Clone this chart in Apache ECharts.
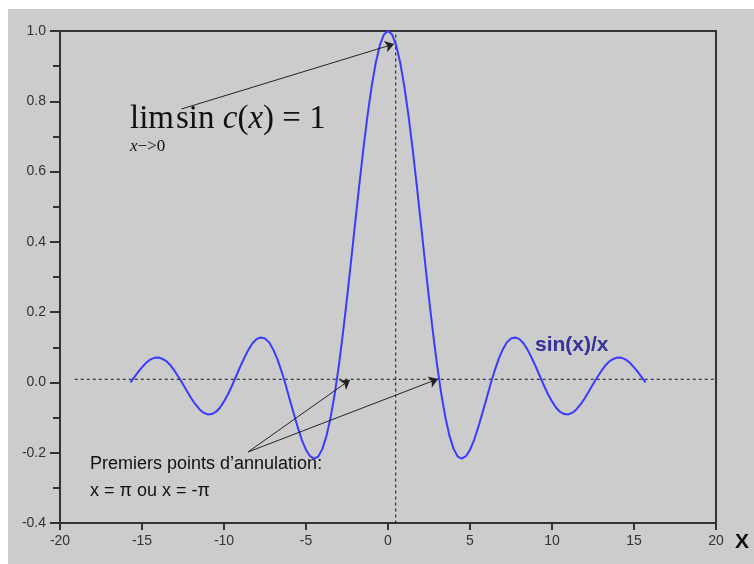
<!DOCTYPE html>
<html>
<head>
<meta charset="utf-8">
<script src="https://cdn.jsdelivr.net/npm/echarts@6/dist/echarts.min.js"></script>
<style>
  html, body { margin: 0; padding: 0; background: #ffffff; }
  #panel { position: absolute; left: 8px; top: 9px; width: 746px; height: 555px; background: #cccccc; }
  #chart { position: absolute; left: 0; top: 0; width: 754px; height: 564px; }
</style>
</head>
<body>
<div id="panel"></div>
<div id="chart"></div>
<script>
// sin(x)/x sampled over [-5π, 5π]
const xs = [
  -15.7, -15.5, -15.25, -15, -14.75, -14.5, -14.25, -14, -13.75, -13.5, -13.25, -13, -12.75, -12.5, -12.25, -12,
  -11.75, -11.5, -11.25, -11, -10.75, -10.5, -10.25, -10, -9.75, -9.5, -9.25, -9, -8.75, -8.5, -8.25, -8,
  -7.75, -7.5, -7.25, -7, -6.75, -6.5, -6.25, -6, -5.75, -5.5, -5.25, -5, -4.75, -4.5, -4.25, -4,
  -3.75, -3.5, -3.25, -3, -2.75, -2.5, -2.25, -2, -1.75, -1.5, -1.25, -1, -0.75, -0.5, -0.25,
  0,
  0.25, 0.5, 0.75, 1, 1.25, 1.5, 1.75, 2, 2.25, 2.5, 2.75, 3, 3.25, 3.5, 3.75,
  4, 4.25, 4.5, 4.75, 5, 5.25, 5.5, 5.75, 6, 6.25, 6.5, 6.75, 7, 7.25, 7.5, 7.75,
  8, 8.25, 8.5, 8.75, 9, 9.25, 9.5, 9.75, 10, 10.25, 10.5, 10.75, 11, 11.25, 11.5, 11.75,
  12, 12.25, 12.5, 12.75, 13, 13.25, 13.5, 13.75, 14, 14.25, 14.5, 14.75, 15, 15.25, 15.5, 15.7
];
const ys = [
  0.000, 0.013, 0.029, 0.043, 0.056, 0.065, 0.070, 0.071, 0.067, 0.060, 0.048, 0.032, 0.014, -0.005, -0.025, -0.045,
  -0.062, -0.076, -0.086, -0.091, -0.090, -0.084, -0.072, -0.054, -0.033, -0.008, 0.019, 0.046, 0.071, 0.094, 0.112, 0.124,
  0.128, 0.125, 0.114, 0.094, 0.067, 0.033, -0.005, -0.047, -0.088, -0.128, -0.164, -0.192, -0.210, -0.217, -0.211, -0.189,
  -0.152, -0.100, -0.033, 0.047, 0.139, 0.239, 0.346, 0.455, 0.562, 0.665, 0.759, 0.841, 0.909, 0.959, 0.990,
  1.000,
  0.990, 0.959, 0.909, 0.841, 0.759, 0.665, 0.562, 0.455, 0.346, 0.239, 0.139, 0.047, -0.033, -0.100, -0.152,
  -0.189, -0.211, -0.217, -0.210, -0.192, -0.164, -0.128, -0.088, -0.047, -0.005, 0.033, 0.067, 0.094, 0.114, 0.125, 0.128,
  0.124, 0.112, 0.094, 0.071, 0.046, 0.019, -0.008, -0.033, -0.054, -0.072, -0.084, -0.090, -0.091, -0.086, -0.076, -0.062,
  -0.045, -0.025, -0.005, 0.014, 0.032, 0.048, 0.060, 0.067, 0.071, 0.070, 0.065, 0.056, 0.043, 0.029, 0.013, 0.000
];

// axis ranges and ticks
const xRange = [-20, 20], xStep = 5;
const yRange = [-0.4, 1.0], yStep = 0.2;

// dashed reference lines
const hGuide = [[-19.1, 0.009], [19.9, 0.009]];
const vGuide = [[0.47, 0.99], [0.47, -0.4]];

// annotation arrows: [from, to] in data units
const arrows = [
  [[-12.6, 0.778], [0.37, 0.963]],
  [[-8.54, -0.198], [-2.32, 0.007]],
  [[-8.54, -0.198], [3.05, 0.010]]
];

const chart = echarts.init(document.getElementById('chart'), null, { renderer: 'canvas' });

const sans = '"Liberation Sans", Arial, sans-serif';
const serif = '"Liberation Serif", "Times New Roman", serif';

chart.setOption({
  backgroundColor: 'transparent',
  animation: false,
  grid: {
    left: 60, top: 31, right: 38, bottom: 41,
    show: true, borderColor: '#333333', borderWidth: 2, backgroundColor: 'transparent'
  },
  xAxis: {
    type: 'value', min: xRange[0], max: xRange[1], interval: xStep,
    axisLine: { show: true, onZero: false, lineStyle: { color: '#333333', width: 2 } },
    axisTick: { show: true, inside: false, length: 7, lineStyle: { color: '#333333', width: 2 } },
    axisLabel: { margin: 11, color: '#333333', fontFamily: sans, fontSize: 14 },
    splitLine: { show: false }
  },
  yAxis: {
    type: 'value', min: yRange[0], max: yRange[1], interval: yStep,
    axisLine: { show: true, onZero: false, lineStyle: { color: '#333333', width: 2 } },
    axisTick: { show: true, inside: false, length: 10, lineStyle: { color: '#333333', width: 2 } },
    minorTick: { show: true, splitNumber: 2, length: 7, lineStyle: { color: '#333333', width: 2 } },
    axisLabel: { margin: 14, color: '#333333', fontFamily: sans, fontSize: 14,
      formatter: v => v.toFixed(1) },
    splitLine: { show: false }
  },
  series: [
    {
      type: 'line', name: 'guideH', data: hGuide, symbol: 'none', silent: true,
      lineStyle: { color: '#111111', width: 1, type: [3, 3] }, z: 1
    },
    {
      type: 'line', name: 'guideV', data: vGuide, symbol: 'none', silent: true,
      lineStyle: { color: '#111111', width: 1, type: [3, 3] }, z: 1
    },
    {
      type: 'line', name: 'sin(x)/x', data: xs.map((x, i) => [x, ys[i]]),
      symbol: 'none', smooth: false, clip: false,
      lineStyle: { color: '#3b3bff', width: 2 }, z: 2
    },
    {
      type: 'line', name: 'arrows', data: [], symbol: 'none',
      markLine: {
        silent: true, animation: false,
        symbol: ['none', 'arrow'], symbolSize: 9,
        label: { show: false },
        lineStyle: { color: '#222222', width: 1, type: 'solid' },
        itemStyle: { color: '#222222' },
        data: arrows.map(a => [{ coord: a[0] }, { coord: a[1] }])
      },
      z: 3
    }
  ],
  graphic: [
    {
      type: 'text', left: 130, top: 103,
      style: {
        text: '{r|lim}{g| }{r|sin }{i|c}{r|(}{i|x}{r|)}{r| = 1}',
        rich: {
          r: { fontFamily: serif, fontSize: 33, fill: '#111111' },
          i: { fontFamily: serif, fontSize: 33, fontStyle: 'italic', fill: '#111111' },
          g: { fontFamily: serif, fontSize: 8 }
        }
      }
    },
    {
      type: 'text', left: 130, top: 138,
      style: {
        text: '{i|x}{r|−>0}',
        rich: {
          r: { fontFamily: serif, fontSize: 17, fill: '#111111' },
          i: { fontFamily: serif, fontSize: 17, fontStyle: 'italic', fill: '#111111' }
        }
      }
    },
    {
      type: 'text', left: 90, top: 451,
      style: {
        text: 'Premiers points d’annulation:\nx = π ou x = -π',
        fontFamily: sans, fontSize: 18, lineHeight: 27, fill: '#111111'
      }
    },
    {
      type: 'text', left: 535, top: 335,
      style: {
        text: 'sin(x)/x', fontFamily: sans, fontSize: 21, fontWeight: 'bold', fill: '#333399'
      }
    },
    {
      type: 'text', left: 735, top: 532,
      style: {
        text: 'X', fontFamily: sans, fontSize: 21, fontWeight: 'bold', fill: '#111111'
      }
    }
  ]
});
</script>
</body>
</html>
